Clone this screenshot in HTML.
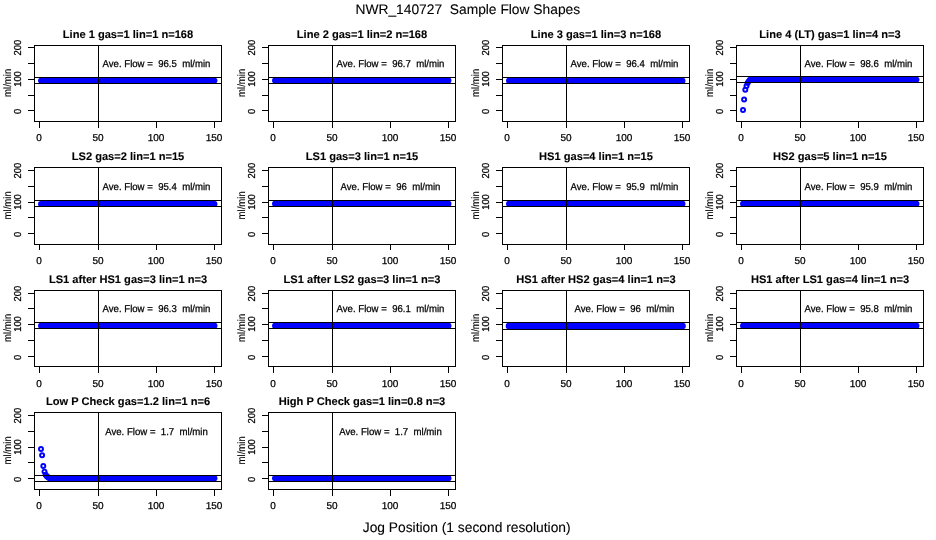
<!DOCTYPE html>
<html><head><meta charset="utf-8"><title>NWR_140727 Sample Flow Shapes</title>
<style>
html,body{margin:0;padding:0;background:#fff;}
body{width:936px;height:540px;overflow:hidden;}
svg{display:block;will-change:transform;opacity:0.999;}
text{font-family:"Liberation Sans",sans-serif;text-rendering:geometricPrecision;fill:#000;stroke:#000;stroke-width:0.25px;}
.t{font-size:9.6px;}
.pt{font-size:11.1px;font-weight:bold;stroke-width:0.1px;}
.big{font-size:13.8px;stroke-width:0.1px;}
.yt{font-size:10.1px;stroke-width:0.25px;}
.yl{font-size:10.6px;stroke-width:0.12px;}
.xt{font-size:10px;}
.av{font-size:10px;}
.ln{stroke:#000;stroke-width:1;fill:none;shape-rendering:crispEdges;}
.pts circle{fill:none;stroke:#00f;stroke-width:1.95;}
.band{stroke:#00f;stroke-linecap:round;fill:none;}
</style></head>
<body>
<svg width="936" height="540" viewBox="0 0 936 540">
<rect x="0" y="0" width="936" height="540" fill="#fff"/>
<text class="big" x="467.8" y="14" text-anchor="middle" xml:space="preserve">NWR_140727  Sample Flow Shapes</text>
<text class="big" x="466.7" y="532.3" text-anchor="middle">Jog Position (1 second resolution)</text>
<g>
<text class="pt" x="128.0" y="38.2" text-anchor="middle">Line 1 gas=1 lin=1 n=168</text>
<path class="band" stroke-width="5.95" d="M41.0 80.62H214.5"/>
<path class="ln" d="M34.5 77.52H221.5M34.5 83.72H221.5"/>
<path class="ln" d="M98.5 45.5V121.5"/>
<rect class="ln" x="34.5" y="45.5" width="187.0" height="76.0"/>
<path class="ln" d="M39.5 121.5v6.3M98.5 121.5v6.3M156.5 121.5v6.3M214.5 121.5v6.3M34.5 110.50h-6.2M34.5 95.50h-6.2M34.5 79.50h-6.2M34.5 63.50h-6.2M34.5 47.50h-6.2"/>
<text class="xt" x="39.0" y="141.0" text-anchor="middle">0</text><text class="xt" x="98.0" y="141.0" text-anchor="middle">50</text><text class="xt" x="156.0" y="141.0" text-anchor="middle">100</text><text class="xt" x="214.0" y="141.0" text-anchor="middle">150</text>
<text class="yt" transform="translate(20.8 111.40) rotate(-90) scale(0.93 1)" text-anchor="middle">0</text><text class="yt" transform="translate(20.8 79.00) rotate(-90) scale(0.93 1)" text-anchor="middle">100</text><text class="yt" transform="translate(20.8 47.70) rotate(-90) scale(0.93 1)" text-anchor="middle">200</text>
<text class="yl" transform="translate(10.5 82.8) rotate(-90) scale(0.905 1)" text-anchor="middle">ml/min</text>
<text class="av" transform="translate(156.5 66.9) scale(0.96 1)" text-anchor="middle" xml:space="preserve">Ave. Flow =  96.5  ml/min</text>
</g>
<g>
<text class="pt" x="362.0" y="38.2" text-anchor="middle">Line 2 gas=1 lin=2 n=168</text>
<path class="band" stroke-width="5.95" d="M275.0 80.56H448.5"/>
<path class="ln" d="M268.5 77.46H455.5M268.5 83.66H455.5"/>
<path class="ln" d="M332.5 45.5V121.5"/>
<rect class="ln" x="268.5" y="45.5" width="187.0" height="76.0"/>
<path class="ln" d="M273.5 121.5v6.3M332.5 121.5v6.3M390.5 121.5v6.3M448.5 121.5v6.3M268.5 110.50h-6.2M268.5 95.50h-6.2M268.5 79.50h-6.2M268.5 63.50h-6.2M268.5 47.50h-6.2"/>
<text class="xt" x="273.0" y="141.0" text-anchor="middle">0</text><text class="xt" x="332.0" y="141.0" text-anchor="middle">50</text><text class="xt" x="390.0" y="141.0" text-anchor="middle">100</text><text class="xt" x="448.0" y="141.0" text-anchor="middle">150</text>
<text class="yt" transform="translate(254.8 111.40) rotate(-90) scale(0.93 1)" text-anchor="middle">0</text><text class="yt" transform="translate(254.8 79.00) rotate(-90) scale(0.93 1)" text-anchor="middle">100</text><text class="yt" transform="translate(254.8 47.70) rotate(-90) scale(0.93 1)" text-anchor="middle">200</text>
<text class="yl" transform="translate(244.5 82.8) rotate(-90) scale(0.905 1)" text-anchor="middle">ml/min</text>
<text class="av" transform="translate(390.5 66.9) scale(0.96 1)" text-anchor="middle" xml:space="preserve">Ave. Flow =  96.7  ml/min</text>
</g>
<g>
<text class="pt" x="596.0" y="38.2" text-anchor="middle">Line 3 gas=1 lin=3 n=168</text>
<path class="band" stroke-width="5.95" d="M509.0 80.65H682.5"/>
<path class="ln" d="M502.5 77.55H689.5M502.5 83.75H689.5"/>
<path class="ln" d="M566.5 45.5V121.5"/>
<rect class="ln" x="502.5" y="45.5" width="187.0" height="76.0"/>
<path class="ln" d="M507.5 121.5v6.3M566.5 121.5v6.3M624.5 121.5v6.3M682.5 121.5v6.3M502.5 110.50h-6.2M502.5 95.50h-6.2M502.5 79.50h-6.2M502.5 63.50h-6.2M502.5 47.50h-6.2"/>
<text class="xt" x="507.0" y="141.0" text-anchor="middle">0</text><text class="xt" x="566.0" y="141.0" text-anchor="middle">50</text><text class="xt" x="624.0" y="141.0" text-anchor="middle">100</text><text class="xt" x="682.0" y="141.0" text-anchor="middle">150</text>
<text class="yt" transform="translate(488.8 111.40) rotate(-90) scale(0.93 1)" text-anchor="middle">0</text><text class="yt" transform="translate(488.8 79.00) rotate(-90) scale(0.93 1)" text-anchor="middle">100</text><text class="yt" transform="translate(488.8 47.70) rotate(-90) scale(0.93 1)" text-anchor="middle">200</text>
<text class="yl" transform="translate(478.5 82.8) rotate(-90) scale(0.905 1)" text-anchor="middle">ml/min</text>
<text class="av" transform="translate(624.5 66.9) scale(0.96 1)" text-anchor="middle" xml:space="preserve">Ave. Flow =  96.4  ml/min</text>
</g>
<g>
<text class="pt" x="830.0" y="38.2" text-anchor="middle">Line 4 (LT) gas=1 lin=4 n=3</text>
<path class="band" stroke-width="5.95" d="M750.0 79.60H916.5"/>
<g class="pts"><circle cx="743.0" cy="109.9" r="2.0"/><circle cx="744.1" cy="99.5" r="2.0"/><circle cx="745.3" cy="89.7" r="2.0"/><circle cx="746.5" cy="85.9" r="2.0"/><circle cx="747.6" cy="83.0" r="2.0"/><circle cx="748.8" cy="81.1" r="2.0"/></g>
<path class="ln" d="M736.5 76.50H923.5M736.5 82.70H923.5"/>
<path class="ln" d="M800.5 45.5V121.5"/>
<rect class="ln" x="736.5" y="45.5" width="187.0" height="76.0"/>
<path class="ln" d="M741.5 121.5v6.3M800.5 121.5v6.3M858.5 121.5v6.3M916.5 121.5v6.3M736.5 110.50h-6.2M736.5 95.50h-6.2M736.5 79.50h-6.2M736.5 63.50h-6.2M736.5 47.50h-6.2"/>
<text class="xt" x="741.0" y="141.0" text-anchor="middle">0</text><text class="xt" x="800.0" y="141.0" text-anchor="middle">50</text><text class="xt" x="858.0" y="141.0" text-anchor="middle">100</text><text class="xt" x="916.0" y="141.0" text-anchor="middle">150</text>
<text class="yt" transform="translate(722.8 111.40) rotate(-90) scale(0.93 1)" text-anchor="middle">0</text><text class="yt" transform="translate(722.8 79.00) rotate(-90) scale(0.93 1)" text-anchor="middle">100</text><text class="yt" transform="translate(722.8 47.70) rotate(-90) scale(0.93 1)" text-anchor="middle">200</text>
<text class="yl" transform="translate(712.5 82.8) rotate(-90) scale(0.905 1)" text-anchor="middle">ml/min</text>
<text class="av" transform="translate(858.5 66.9) scale(0.96 1)" text-anchor="middle" xml:space="preserve">Ave. Flow =  98.6  ml/min</text>
</g>
<g>
<text class="pt" x="128.0" y="160.2" text-anchor="middle">LS2 gas=2 lin=1 n=15</text>
<path class="band" stroke-width="5.95" d="M41.0 203.88H214.5"/>
<path class="ln" d="M34.5 200.78H221.5M34.5 206.98H221.5"/>
<path class="ln" d="M98.5 167.5V244.5"/>
<rect class="ln" x="34.5" y="167.5" width="187.0" height="77.0"/>
<path class="ln" d="M39.5 244.5v5.5M98.5 244.5v5.5M156.5 244.5v5.5M214.5 244.5v5.5M34.5 233.50h-6.2M34.5 217.50h-6.2M34.5 202.50h-6.2M34.5 186.50h-6.2M34.5 170.50h-6.2"/>
<text class="xt" x="39.0" y="264.0" text-anchor="middle">0</text><text class="xt" x="98.0" y="264.0" text-anchor="middle">50</text><text class="xt" x="156.0" y="264.0" text-anchor="middle">100</text><text class="xt" x="214.0" y="264.0" text-anchor="middle">150</text>
<text class="yt" transform="translate(20.8 234.40) rotate(-90) scale(0.93 1)" text-anchor="middle">0</text><text class="yt" transform="translate(20.8 202.00) rotate(-90) scale(0.93 1)" text-anchor="middle">100</text><text class="yt" transform="translate(20.8 170.70) rotate(-90) scale(0.93 1)" text-anchor="middle">200</text>
<text class="yl" transform="translate(10.5 205.3) rotate(-90) scale(0.905 1)" text-anchor="middle">ml/min</text>
<text class="av" transform="translate(156.5 189.9) scale(0.96 1)" text-anchor="middle" xml:space="preserve">Ave. Flow =  95.4  ml/min</text>
</g>
<g>
<text class="pt" x="362.0" y="160.2" text-anchor="middle">LS1 gas=3 lin=1 n=15</text>
<path class="band" stroke-width="5.95" d="M275.0 203.70H448.5"/>
<path class="ln" d="M268.5 200.60H455.5M268.5 206.80H455.5"/>
<path class="ln" d="M332.5 167.5V244.5"/>
<rect class="ln" x="268.5" y="167.5" width="187.0" height="77.0"/>
<path class="ln" d="M273.5 244.5v5.5M332.5 244.5v5.5M390.5 244.5v5.5M448.5 244.5v5.5M268.5 233.50h-6.2M268.5 217.50h-6.2M268.5 202.50h-6.2M268.5 186.50h-6.2M268.5 170.50h-6.2"/>
<text class="xt" x="273.0" y="264.0" text-anchor="middle">0</text><text class="xt" x="332.0" y="264.0" text-anchor="middle">50</text><text class="xt" x="390.0" y="264.0" text-anchor="middle">100</text><text class="xt" x="448.0" y="264.0" text-anchor="middle">150</text>
<text class="yt" transform="translate(254.8 234.40) rotate(-90) scale(0.93 1)" text-anchor="middle">0</text><text class="yt" transform="translate(254.8 202.00) rotate(-90) scale(0.93 1)" text-anchor="middle">100</text><text class="yt" transform="translate(254.8 170.70) rotate(-90) scale(0.93 1)" text-anchor="middle">200</text>
<text class="yl" transform="translate(244.5 205.3) rotate(-90) scale(0.905 1)" text-anchor="middle">ml/min</text>
<text class="av" transform="translate(390.5 189.9) scale(0.96 1)" text-anchor="middle" xml:space="preserve">Ave. Flow =  96  ml/min</text>
</g>
<g>
<text class="pt" x="596.0" y="160.2" text-anchor="middle">HS1 gas=4 lin=1 n=15</text>
<path class="band" stroke-width="5.95" d="M509.0 203.73H682.5"/>
<path class="ln" d="M502.5 200.63H689.5M502.5 206.83H689.5"/>
<path class="ln" d="M566.5 167.5V244.5"/>
<rect class="ln" x="502.5" y="167.5" width="187.0" height="77.0"/>
<path class="ln" d="M507.5 244.5v5.5M566.5 244.5v5.5M624.5 244.5v5.5M682.5 244.5v5.5M502.5 233.50h-6.2M502.5 217.50h-6.2M502.5 202.50h-6.2M502.5 186.50h-6.2M502.5 170.50h-6.2"/>
<text class="xt" x="507.0" y="264.0" text-anchor="middle">0</text><text class="xt" x="566.0" y="264.0" text-anchor="middle">50</text><text class="xt" x="624.0" y="264.0" text-anchor="middle">100</text><text class="xt" x="682.0" y="264.0" text-anchor="middle">150</text>
<text class="yt" transform="translate(488.8 234.40) rotate(-90) scale(0.93 1)" text-anchor="middle">0</text><text class="yt" transform="translate(488.8 202.00) rotate(-90) scale(0.93 1)" text-anchor="middle">100</text><text class="yt" transform="translate(488.8 170.70) rotate(-90) scale(0.93 1)" text-anchor="middle">200</text>
<text class="yl" transform="translate(478.5 205.3) rotate(-90) scale(0.905 1)" text-anchor="middle">ml/min</text>
<text class="av" transform="translate(624.5 189.9) scale(0.96 1)" text-anchor="middle" xml:space="preserve">Ave. Flow =  95.9  ml/min</text>
</g>
<g>
<text class="pt" x="830.0" y="160.2" text-anchor="middle">HS2 gas=5 lin=1 n=15</text>
<path class="band" stroke-width="5.95" d="M743.0 203.73H916.5"/>
<path class="ln" d="M736.5 200.63H923.5M736.5 206.83H923.5"/>
<path class="ln" d="M800.5 167.5V244.5"/>
<rect class="ln" x="736.5" y="167.5" width="187.0" height="77.0"/>
<path class="ln" d="M741.5 244.5v5.5M800.5 244.5v5.5M858.5 244.5v5.5M916.5 244.5v5.5M736.5 233.50h-6.2M736.5 217.50h-6.2M736.5 202.50h-6.2M736.5 186.50h-6.2M736.5 170.50h-6.2"/>
<text class="xt" x="741.0" y="264.0" text-anchor="middle">0</text><text class="xt" x="800.0" y="264.0" text-anchor="middle">50</text><text class="xt" x="858.0" y="264.0" text-anchor="middle">100</text><text class="xt" x="916.0" y="264.0" text-anchor="middle">150</text>
<text class="yt" transform="translate(722.8 234.40) rotate(-90) scale(0.93 1)" text-anchor="middle">0</text><text class="yt" transform="translate(722.8 202.00) rotate(-90) scale(0.93 1)" text-anchor="middle">100</text><text class="yt" transform="translate(722.8 170.70) rotate(-90) scale(0.93 1)" text-anchor="middle">200</text>
<text class="yl" transform="translate(712.5 205.3) rotate(-90) scale(0.905 1)" text-anchor="middle">ml/min</text>
<text class="av" transform="translate(858.5 189.9) scale(0.96 1)" text-anchor="middle" xml:space="preserve">Ave. Flow =  95.9  ml/min</text>
</g>
<g>
<text class="pt" x="128.0" y="283.2" text-anchor="middle">LS1 after HS1 gas=3 lin=1 n=3</text>
<path class="band" stroke-width="5.95" d="M41.0 325.68H214.5"/>
<path class="ln" d="M34.5 322.58H221.5M34.5 328.78H221.5"/>
<path class="ln" d="M98.5 290.5V366.5"/>
<rect class="ln" x="34.5" y="290.5" width="187.0" height="76.0"/>
<path class="ln" d="M39.5 366.5v6.3M98.5 366.5v6.3M156.5 366.5v6.3M214.5 366.5v6.3M34.5 356.50h-6.2M34.5 340.50h-6.2M34.5 324.50h-6.2M34.5 308.50h-6.2M34.5 293.50h-6.2"/>
<text class="xt" x="39.0" y="386.9" text-anchor="middle">0</text><text class="xt" x="98.0" y="386.9" text-anchor="middle">50</text><text class="xt" x="156.0" y="386.9" text-anchor="middle">100</text><text class="xt" x="214.0" y="386.9" text-anchor="middle">150</text>
<text class="yt" transform="translate(20.8 357.40) rotate(-90) scale(0.93 1)" text-anchor="middle">0</text><text class="yt" transform="translate(20.8 324.00) rotate(-90) scale(0.93 1)" text-anchor="middle">100</text><text class="yt" transform="translate(20.8 293.70) rotate(-90) scale(0.93 1)" text-anchor="middle">200</text>
<text class="yl" transform="translate(10.5 327.8) rotate(-90) scale(0.905 1)" text-anchor="middle">ml/min</text>
<text class="av" transform="translate(156.5 311.9) scale(0.96 1)" text-anchor="middle" xml:space="preserve">Ave. Flow =  96.3  ml/min</text>
</g>
<g>
<text class="pt" x="362.0" y="283.2" text-anchor="middle">LS1 after LS2 gas=3 lin=1 n=3</text>
<path class="band" stroke-width="5.95" d="M275.0 325.75H448.5"/>
<path class="ln" d="M268.5 322.65H455.5M268.5 328.85H455.5"/>
<path class="ln" d="M332.5 290.5V366.5"/>
<rect class="ln" x="268.5" y="290.5" width="187.0" height="76.0"/>
<path class="ln" d="M273.5 366.5v6.3M332.5 366.5v6.3M390.5 366.5v6.3M448.5 366.5v6.3M268.5 356.50h-6.2M268.5 340.50h-6.2M268.5 324.50h-6.2M268.5 308.50h-6.2M268.5 293.50h-6.2"/>
<text class="xt" x="273.0" y="386.9" text-anchor="middle">0</text><text class="xt" x="332.0" y="386.9" text-anchor="middle">50</text><text class="xt" x="390.0" y="386.9" text-anchor="middle">100</text><text class="xt" x="448.0" y="386.9" text-anchor="middle">150</text>
<text class="yt" transform="translate(254.8 357.40) rotate(-90) scale(0.93 1)" text-anchor="middle">0</text><text class="yt" transform="translate(254.8 324.00) rotate(-90) scale(0.93 1)" text-anchor="middle">100</text><text class="yt" transform="translate(254.8 293.70) rotate(-90) scale(0.93 1)" text-anchor="middle">200</text>
<text class="yl" transform="translate(244.5 327.8) rotate(-90) scale(0.905 1)" text-anchor="middle">ml/min</text>
<text class="av" transform="translate(390.5 311.9) scale(0.96 1)" text-anchor="middle" xml:space="preserve">Ave. Flow =  96.1  ml/min</text>
</g>
<g>
<text class="pt" x="596.0" y="283.2" text-anchor="middle">HS1 after HS2 gas=4 lin=1 n=3</text>
<path class="band" stroke-width="6.65" d="M509.0 325.98H682.5"/>
<path class="ln" d="M502.5 322.48H689.5M502.5 329.48H689.5"/>
<path class="ln" d="M566.5 290.5V366.5"/>
<rect class="ln" x="502.5" y="290.5" width="187.0" height="76.0"/>
<path class="ln" d="M507.5 366.5v6.3M566.5 366.5v6.3M624.5 366.5v6.3M682.5 366.5v6.3M502.5 356.50h-6.2M502.5 340.50h-6.2M502.5 324.50h-6.2M502.5 308.50h-6.2M502.5 293.50h-6.2"/>
<text class="xt" x="507.0" y="386.9" text-anchor="middle">0</text><text class="xt" x="566.0" y="386.9" text-anchor="middle">50</text><text class="xt" x="624.0" y="386.9" text-anchor="middle">100</text><text class="xt" x="682.0" y="386.9" text-anchor="middle">150</text>
<text class="yt" transform="translate(488.8 357.40) rotate(-90) scale(0.93 1)" text-anchor="middle">0</text><text class="yt" transform="translate(488.8 324.00) rotate(-90) scale(0.93 1)" text-anchor="middle">100</text><text class="yt" transform="translate(488.8 293.70) rotate(-90) scale(0.93 1)" text-anchor="middle">200</text>
<text class="yl" transform="translate(478.5 327.8) rotate(-90) scale(0.905 1)" text-anchor="middle">ml/min</text>
<text class="av" transform="translate(624.5 311.9) scale(0.96 1)" text-anchor="middle" xml:space="preserve">Ave. Flow =  96  ml/min</text>
</g>
<g>
<text class="pt" x="830.0" y="283.2" text-anchor="middle">HS1 after LS1 gas=4 lin=1 n=3</text>
<path class="band" stroke-width="5.95" d="M743.0 325.84H916.5"/>
<path class="ln" d="M736.5 322.74H923.5M736.5 328.94H923.5"/>
<path class="ln" d="M800.5 290.5V366.5"/>
<rect class="ln" x="736.5" y="290.5" width="187.0" height="76.0"/>
<path class="ln" d="M741.5 366.5v6.3M800.5 366.5v6.3M858.5 366.5v6.3M916.5 366.5v6.3M736.5 356.50h-6.2M736.5 340.50h-6.2M736.5 324.50h-6.2M736.5 308.50h-6.2M736.5 293.50h-6.2"/>
<text class="xt" x="741.0" y="386.9" text-anchor="middle">0</text><text class="xt" x="800.0" y="386.9" text-anchor="middle">50</text><text class="xt" x="858.0" y="386.9" text-anchor="middle">100</text><text class="xt" x="916.0" y="386.9" text-anchor="middle">150</text>
<text class="yt" transform="translate(722.8 357.40) rotate(-90) scale(0.93 1)" text-anchor="middle">0</text><text class="yt" transform="translate(722.8 324.00) rotate(-90) scale(0.93 1)" text-anchor="middle">100</text><text class="yt" transform="translate(722.8 293.70) rotate(-90) scale(0.93 1)" text-anchor="middle">200</text>
<text class="yl" transform="translate(712.5 327.8) rotate(-90) scale(0.905 1)" text-anchor="middle">ml/min</text>
<text class="av" transform="translate(858.5 311.9) scale(0.96 1)" text-anchor="middle" xml:space="preserve">Ave. Flow =  95.8  ml/min</text>
</g>
<g>
<text class="pt" x="128.0" y="405.2" text-anchor="middle">Low P Check gas=1.2 lin=1 n=6</text>
<path class="band" stroke-width="5.95" d="M50.3 478.31H214.5"/>
<g class="pts"><circle cx="41.0" cy="449.0" r="2.0"/><circle cx="42.1" cy="455.3" r="2.0"/><circle cx="43.3" cy="466.0" r="2.0"/><circle cx="44.5" cy="471.6" r="2.0"/><circle cx="45.6" cy="474.7" r="2.0"/><circle cx="46.8" cy="476.3" r="2.0"/><circle cx="48.0" cy="477.2" r="2.0"/><circle cx="49.1" cy="477.9" r="2.0"/></g>
<path class="ln" d="M34.5 475.21H221.5M34.5 481.41H221.5"/>
<path class="ln" d="M98.5 412.5V489.5"/>
<rect class="ln" x="34.5" y="412.5" width="187.0" height="77.0"/>
<path class="ln" d="M39.5 489.5v6.3M98.5 489.5v6.3M156.5 489.5v6.3M214.5 489.5v6.3M34.5 478.50h-6.2M34.5 462.50h-6.2M34.5 447.50h-6.2M34.5 431.50h-6.2M34.5 415.50h-6.2"/>
<text class="xt" x="39.0" y="509.0" text-anchor="middle">0</text><text class="xt" x="98.0" y="509.0" text-anchor="middle">50</text><text class="xt" x="156.0" y="509.0" text-anchor="middle">100</text><text class="xt" x="214.0" y="509.0" text-anchor="middle">150</text>
<text class="yt" transform="translate(20.8 479.40) rotate(-90) scale(0.93 1)" text-anchor="middle">0</text><text class="yt" transform="translate(20.8 447.00) rotate(-90) scale(0.93 1)" text-anchor="middle">100</text><text class="yt" transform="translate(20.8 415.70) rotate(-90) scale(0.93 1)" text-anchor="middle">200</text>
<text class="yl" transform="translate(10.5 450.3) rotate(-90) scale(0.905 1)" text-anchor="middle">ml/min</text>
<text class="av" transform="translate(156.5 434.9) scale(0.96 1)" text-anchor="middle" xml:space="preserve">Ave. Flow =  1.7  ml/min</text>
</g>
<g>
<text class="pt" x="362.0" y="405.2" text-anchor="middle">High P Check gas=1 lin=0.8 n=3</text>
<path class="band" stroke-width="5.95" d="M275.0 478.31H448.5"/>
<path class="ln" d="M268.5 475.21H455.5M268.5 481.41H455.5"/>
<path class="ln" d="M332.5 412.5V489.5"/>
<rect class="ln" x="268.5" y="412.5" width="187.0" height="77.0"/>
<path class="ln" d="M273.5 489.5v6.3M332.5 489.5v6.3M390.5 489.5v6.3M448.5 489.5v6.3M268.5 478.50h-6.2M268.5 462.50h-6.2M268.5 447.50h-6.2M268.5 431.50h-6.2M268.5 415.50h-6.2"/>
<text class="xt" x="273.0" y="509.0" text-anchor="middle">0</text><text class="xt" x="332.0" y="509.0" text-anchor="middle">50</text><text class="xt" x="390.0" y="509.0" text-anchor="middle">100</text><text class="xt" x="448.0" y="509.0" text-anchor="middle">150</text>
<text class="yt" transform="translate(254.8 479.40) rotate(-90) scale(0.93 1)" text-anchor="middle">0</text><text class="yt" transform="translate(254.8 447.00) rotate(-90) scale(0.93 1)" text-anchor="middle">100</text><text class="yt" transform="translate(254.8 415.70) rotate(-90) scale(0.93 1)" text-anchor="middle">200</text>
<text class="yl" transform="translate(244.5 450.3) rotate(-90) scale(0.905 1)" text-anchor="middle">ml/min</text>
<text class="av" transform="translate(390.5 434.9) scale(0.96 1)" text-anchor="middle" xml:space="preserve">Ave. Flow =  1.7  ml/min</text>
</g>
</svg>
</body></html>
